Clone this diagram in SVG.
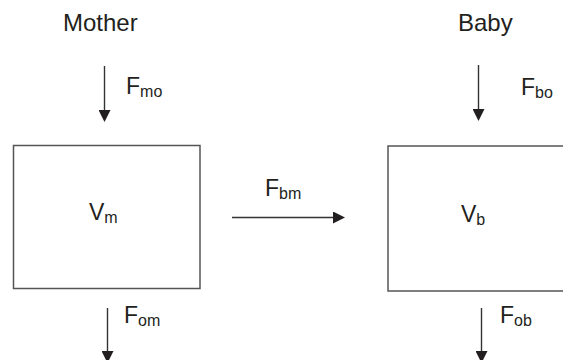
<svg xmlns="http://www.w3.org/2000/svg" width="563" height="360" viewBox="0 0 563 360">
  <style>
    text { font-family: "Liberation Sans", Arial, sans-serif; fill: #231f20; }
    .title { font-size: 24px; }
    .lbl { font-size: 23px; }
    .sub { font-size: 16px; }
    .box { fill: #ffffff; stroke: #555555; stroke-width: 1.5; }
    .flow { stroke: #333333; stroke-width: 1.4; fill: none; marker-end: url(#head); }
  </style>
  <defs>
    <marker id="head" markerUnits="userSpaceOnUse" markerWidth="12" markerHeight="12" refX="0" refY="6" orient="auto">
      <path d="M0,0 L12,6 L0,12 z" fill="#231f20"/>
    </marker>
  </defs>
  <rect width="563" height="360" fill="#ffffff"/>

  <!-- compartment headings -->
  <text class="title" x="63" y="31">Mother</text>
  <text class="title" x="458" y="31">Baby</text>

  <!-- mother compartment -->
  <g id="node-mother">
    <rect class="box" x="13.5" y="145.5" width="186.5" height="143"/>
    <text class="lbl" x="89" y="220">V<tspan class="sub" dy="3">m</tspan></text>
  </g>

  <!-- baby compartment (continues past the right edge) -->
  <g id="node-baby">
    <rect class="box" x="388" y="146" width="200" height="145"/>
    <text class="lbl" x="461" y="222">V<tspan class="sub" dy="3">b</tspan></text>
  </g>

  <!-- flows -->
  <g id="connectors">
    <line class="flow" x1="104.5" y1="66" x2="104.5" y2="110"/>
    <line class="flow" x1="478.5" y1="65" x2="478.5" y2="109"/>
    <line class="flow" x1="232" y1="217.5" x2="333" y2="217.5"/>
    <line class="flow" x1="107.5" y1="308" x2="107.5" y2="351"/>
    <line class="flow" x1="481.5" y1="308" x2="481.5" y2="351"/>
  </g>

  <!-- flow labels -->
  <g id="labels">
    <text class="lbl" x="126" y="94">F<tspan class="sub" dy="3">mo</tspan></text>
    <text class="lbl" x="521" y="95">F<tspan class="sub" dy="3">bo</tspan></text>
    <text class="lbl" x="265" y="196">F<tspan class="sub" dy="3">bm</tspan></text>
    <text class="lbl" x="124" y="323">F<tspan class="sub" dy="3">om</tspan></text>
    <text class="lbl" x="500" y="323">F<tspan class="sub" dy="3">ob</tspan></text>
  </g>
</svg>
